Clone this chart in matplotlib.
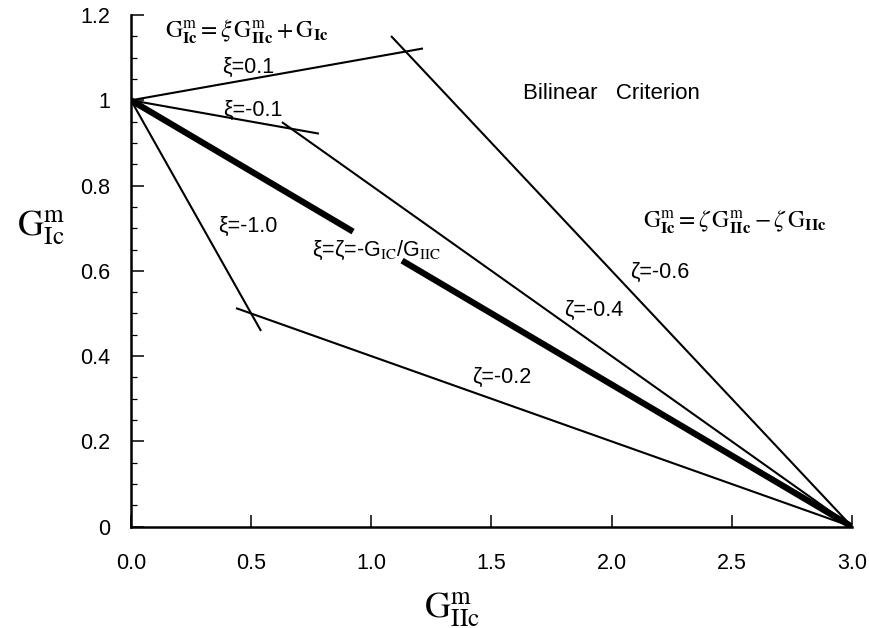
import matplotlib
matplotlib.use("Agg")
import matplotlib.pyplot as plt
import numpy as np
from matplotlib.ticker import MultipleLocator, FixedLocator

plt.rcParams['mathtext.fontset'] = 'stix'
plt.rcParams['font.family'] = ['Liberation Sans', 'DejaVu Sans']

# Lines through (0, 1): G_Ic^m = xi * G_IIc^m + G_Ic   (G_Ic = 1)
xi_values = [0.1, -0.1, -1.0]
xi_xend = [1.215, 0.782, 0.541]
# Lines through (3, 0): G_Ic^m = zeta*(G_IIc^m - G_IIc)  (G_IIc = 3)
zeta_values = [-0.2, -0.4, -0.6]
zeta_xstart = [0.437, 0.628, 1.082]
G_Ic = 1.0
G_IIc = 3.0
# Thick line xi = zeta = -G_Ic/G_IIc, broken for its label
thick_gap = [0.924, 1.128]

x_ticks = [0, 0.5, 1.0, 1.5, 2.0, 2.5, 3.0]
x_ticklabels = ['0.0', '0.5', '1.0', '1.5', '2.0', '2.5', '3.0']
y_ticks = [0, 0.2, 0.4, 0.6, 0.8, 1.0, 1.2]
y_ticklabels = ['0', '0.2', '0.4', '0.6', '0.8', '1', '1.2']

fig = plt.figure(figsize=(8.69, 6.28), dpi=100)
# x: 0 -> px 131, 3 -> px 852 ; y: 0 -> px 526.7, 1.2 -> px 15
ax = fig.add_axes([131/869, 1-526.7/628, (852-131)/869, (526.7-15)/628])

lw = 1.5
for xi, xe in zip(xi_values, xi_xend):
    xs = np.array([0.0, xe])
    ax.plot(xs, xi * xs + G_Ic, color='black', lw=lw, solid_capstyle='butt')
for z, xs0 in zip(zeta_values, zeta_xstart):
    xs = np.array([xs0, G_IIc])
    ax.plot(xs, z * (xs - G_IIc), color='black', lw=lw, solid_capstyle='butt')

slope = -G_Ic / G_IIc
for seg in ([0.0, thick_gap[0]], [thick_gap[1], G_IIc]):
    xs = np.array(seg)
    ax.plot(xs, slope * xs + G_Ic, color='black', lw=4.5, solid_capstyle='butt')

ax.set_xlim(0, 3.0)
ax.set_ylim(0, 1.2)
for s in ['top', 'right']:
    ax.spines[s].set_visible(False)
for s in ['left', 'bottom']:
    ax.spines[s].set_linewidth(1.8)

ax.xaxis.set_major_locator(FixedLocator(x_ticks))
ax.yaxis.set_major_locator(FixedLocator(y_ticks))
ax.yaxis.set_minor_locator(MultipleLocator(0.05))
ax.set_xticklabels(x_ticklabels)
ax.set_yticklabels(y_ticklabels)
ax.tick_params(axis='both', which='major', direction='in', length=9, width=1.1,
               labelsize=15.5)
ax.tick_params(axis='y', which='minor', direction='in', length=4, width=0.9)
ax.tick_params(axis='x', pad=19)
ax.tick_params(axis='y', pad=15)

ax.set_xlabel(r'$\mathrm{G}_{\mathrm{IIc}}^{\mathrm{m}}$', fontsize=26)
ax.xaxis.set_label_coords(0.445, -0.125)
ax.set_ylabel(r'$\mathrm{G}_{\mathrm{Ic}}^{\mathrm{m}}$', fontsize=26, rotation=0,
              va='center', ha='center')
ax.yaxis.set_label_coords(-0.125, 0.585)

ts = 15.5
ax.text(0.141, 1.16, r'$\mathrm{G}_{\mathbf{Ic}}^{\mathrm{m}}=\xi\,\mathrm{G}_{\mathbf{IIc}}^{\mathrm{m}}+\mathrm{G}_{\mathbf{Ic}}$',
        fontsize=17, ha='left', va='center')
ax.text(0.487, 1.078, 'ξ=0.1', fontsize=ts, ha='center', va='center')
ax.text(0.508, 0.977, 'ξ=-0.1', fontsize=ts, ha='center', va='center')
ax.text(2.0, 1.017, 'Bilinear   Criterion', fontsize=16, ha='center', va='center')
ax.text(0.487, 0.703, 'ξ=-1.0', fontsize=ts, ha='center', va='center')
ax.text(1.02, 0.649, r'ξ=ζ=-G$_{\mathrm{IC}}$/G$_{\mathrm{IIC}}$', fontsize=ts,
        ha='center', va='center')
ax.text(2.513, 0.714, r'$\mathrm{G}_{\mathbf{Ic}}^{\mathrm{m}}=\zeta\,\mathrm{G}_{\mathbf{IIc}}^{\mathrm{m}}-\zeta\,\mathrm{G}_{\mathbf{IIc}}$',
        fontsize=17, ha='center', va='center')
ax.text(2.20, 0.597, 'ζ=-0.6', fontsize=ts, ha='center', va='center')
ax.text(1.927, 0.508, 'ζ=-0.4', fontsize=ts, ha='center', va='center')
ax.text(1.544, 0.351, 'ζ=-0.2', fontsize=ts, ha='center', va='center')

fig.savefig('out.png', dpi=100)
